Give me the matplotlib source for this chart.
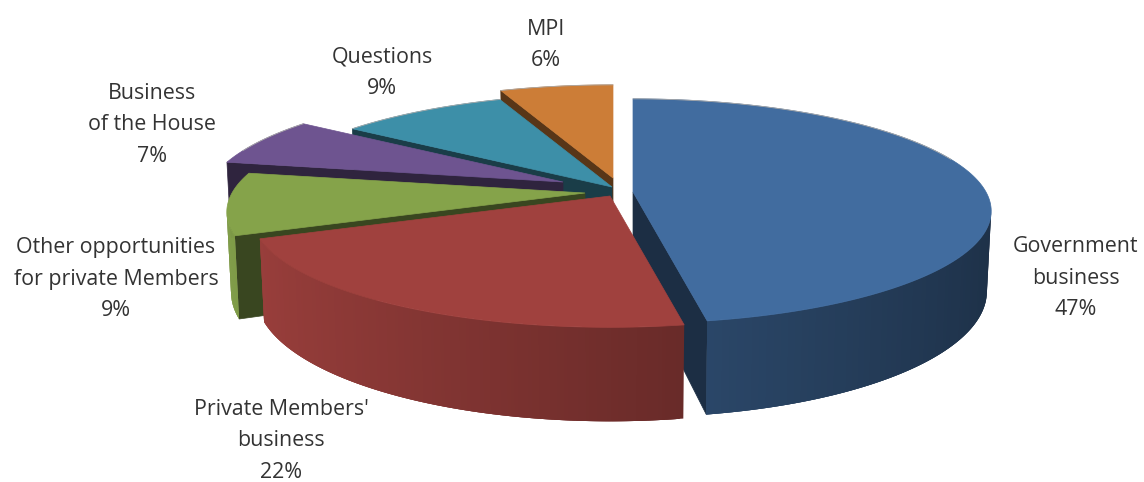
import numpy as np
import matplotlib.pyplot as plt
from matplotlib.collections import PolyCollection
from matplotlib.colors import to_rgb

# Share of time per category, clockwise from 12 o'clock
categorias = ["Government\nbusiness", "Private Members'\nbusiness", "Other opportunities\nfor private Members",
              "Business\nof the House", "Questions", "MPI"]
valores = [47.2, 21.8, 9, 7, 9, 6]
cores = ["#416c9f", "#a0413e", "#85a34a", "#6e5490", "#3d8fa8", "#cc7d37"]

# Where each exploded slice sits in the picture (pixels)
apices = [(633, 192), (610, 196), (585, 193), (563, 182), (612, 187), (613, 178)]
pos_rotulos = [(1076, 278), (281, 441), (116, 279), (152, 125), (382, 73), (546, 45)]

# Projection of the tilted disc
A = 353
B = 109
K = 0.17
ALTURA = 78
ENCOLHE = 0.988


def topo(ap, t):
    X, Y = np.sin(t), np.cos(t)
    s = 1 / (1 + K * Y)
    return ap[0] + A * X * s, ap[1] - B * Y * s


def base(ap, t):
    X, Y = np.sin(t), np.cos(t)
    s = 1 / (1 + K * Y)
    return ap[0] + A * X * s * ENCOLHE, ap[1] - B * Y * s + ALTURA * s


def sombra(cor, f):
    return tuple(c * f for c in to_rgb(cor))


fig = plt.figure(figsize=(11.44, 4.82), dpi=100)
ax = fig.add_axes([0, 0, 1, 1])
ax.set_xlim(0, 1144)
ax.set_ylim(482, 0)
ax.axis("off")

lim = np.radians(np.cumsum([0] + valores) * 3.6)

# Back slices first, the two big front slices last
for i in [5, 4, 3, 2, 0, 1]:
    ap = apices[i]
    cor = cores[i]
    t = np.linspace(lim[i], lim[i + 1], 160)
    xt, yt = topo(ap, t)
    xb, yb = base(ap, t)

    # cut faces that look towards the viewer
    for corte, visivel in [(t[0], np.sin(t[0]) < -1e-9), (t[-1], np.sin(t[-1]) > 1e-9)]:
        if visivel:
            xe, ye = topo(ap, corte)
            xf, yf = base(ap, corte)
            ax.fill([ap[0], xe, xf, ap[0]], [ap[1], ye, yf, ap[1] + ALTURA],
                    color=sombra(cor, 0.43), lw=0.5)

    # outer wall, only the part that faces the viewer
    # each strip runs under the next one so no seams show
    frente = np.where(np.cos(t) <= -K)[0]
    quads = []
    faces = []
    for j in frente[:-1]:
        k = min(j + 3, frente[-1])
        quads.append([(xt[j], yt[j]), (xt[k], yt[k]), (xb[k], yb[k]), (xb[j], yb[j])])
        f = np.interp(np.sin(t[j]), [-1, 0.16, 1], [0.97, 0.66, 0.45])
        faces.append(sombra(cor, f))
    if quads:
        ax.add_collection(PolyCollection(quads, facecolors=faces, edgecolors="none", linewidths=0))

    # top of the slice
    ax.fill(np.r_[ap[0], xt], np.r_[ap[1], yt], color=cor, lw=0.5)
    atras = np.cos(t) > 0.3
    ax.plot(xt[atras], yt[atras], color="#a9a9a9", lw=0.6, zorder=1)

for nome, v, (x, y) in zip(categorias, valores, pos_rotulos):
    ax.text(x, y, f"{nome}\n{round(v)}%", ha="center", va="center", fontsize=15.4,
            color="#333333", linespacing=1.65, family="Open Sans")

fig.savefig("out.png", dpi=100)
